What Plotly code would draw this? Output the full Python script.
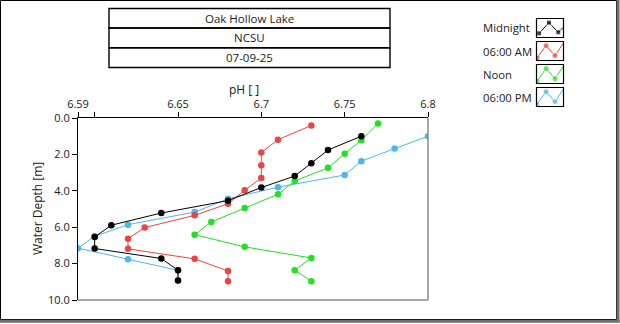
import plotly.graph_objects as go

# ---- data ----
series_names = ["Midnight", "06:00 AM", "Noon", "06:00 PM"]
series_colors = ["#000000", "#E84545", "#22E022", "#4DB6EA"]

midnight_depth = [1.0, 1.76, 2.48, 3.19, 3.82, 4.54, 5.22, 5.89, 6.54, 7.17, 7.72, 8.37, 8.93]
midnight_ph = [6.76, 6.74, 6.73, 6.72, 6.70, 6.68, 6.64, 6.61, 6.60, 6.60, 6.64, 6.65, 6.65]

am6_depth = [0.41, 1.19, 1.89, 2.6, 3.3, 3.97, 4.71, 5.35, 6.02, 6.63, 7.19, 7.74, 8.41, 8.97]
am6_ph = [6.73, 6.71, 6.70, 6.70, 6.70, 6.69, 6.68, 6.66, 6.63, 6.62, 6.62, 6.66, 6.68, 6.68]

noon_depth = [0.3, 1.22, 1.96, 2.74, 3.46, 4.19, 4.95, 5.71, 6.41, 7.08, 7.69, 8.36, 8.97]
noon_ph = [6.77, 6.76, 6.75, 6.74, 6.72, 6.71, 6.69, 6.67, 6.66, 6.69, 6.73, 6.72, 6.73]

pm6_depth = [1.0, 1.68, 2.37, 3.13, 3.8, 4.44, 5.17, 5.86, 6.5, 7.15, 7.76, 8.37, 8.93]
pm6_ph = [6.80, 6.78, 6.76, 6.75, 6.71, 6.68, 6.66, 6.62, 6.60, 6.59, 6.62, 6.65, 6.65]

x_tickvals = [6.59, 6.6, 6.65, 6.7, 6.75, 6.8]
x_ticktext = ["6.59", "", "6.65", "6.7", "6.75", "6.8"]
y_tickvals = [0, 2, 4, 6, 8, 10]
y_ticktext = ["0.0", "2.0", "4.0", "6.0", "8.0", "10.0"]

title_lines = ["Oak Hollow Lake", "NCSU", "07-09-25"]
x_title = "pH [ ]"
y_title = "Water Depth [m]"

# ---- layout helpers (pixel -> paper) ----
W, H = 620, 324
def X(px):
    return px / W
def Y(py):
    return 1 - py / H

FONT = "Open Sans, Noto Sans, sans-serif"
TXT = "#1a1a1a"

fig = go.Figure()

all_series = [(midnight_ph, midnight_depth), (am6_ph, am6_depth),
              (noon_ph, noon_depth), (pm6_ph, pm6_depth)]
# draw in reverse so Midnight sits on top
for (xs, ys), name, col in reversed(list(zip(all_series, series_names, series_colors))):
    fig.add_trace(go.Scatter(x=xs, y=ys, mode="lines+markers", name=name,
                             line=dict(color=col, width=1),
                             marker=dict(color=col, size=6.5, symbol="circle"),
                             showlegend=False, cliponaxis=True))

# plot area pixels
L, R, T, B = 78, 428, 118, 300

shapes = []
annotations = []

# legend icons on small inset axes
icon_x_black = [0.08, 0.46, 0.82, 1.02]
icon_y_black = [0.2, 0.8, 0.26, 0.55]
icon_x_col = [0.0, 0.35, 0.69, 1.0]
icon_y_col = [0.12, 0.8, 0.24, 0.9]
box_tops = [19, 42, 65, 88]
bx0, bx1 = 537, 563
for i, (name, col, bt) in enumerate(zip(series_names, series_colors, box_tops)):
    ax = i + 2
    bb = bt + 18
    fig.update_layout(**{
        f"xaxis{ax}": dict(domain=[X(bx0), X(bx1)], range=[0, 1], visible=False, fixedrange=True,
                           anchor=f"y{ax}", automargin=False),
        f"yaxis{ax}": dict(domain=[Y(bb), Y(bt)], range=[0, 1], visible=False, fixedrange=True,
                           anchor=f"x{ax}", automargin=False),
    })
    if i == 0:
        ix, iy, sym = icon_x_black, icon_y_black, "square"
        msize = [5, 5, 5, 0]
    else:
        ix, iy, sym = icon_x_col, icon_y_col, "circle"
        msize = [6, 6, 6, 0]
    fig.add_trace(go.Scatter(x=ix, y=iy, mode="lines+markers", xaxis=f"x{ax}", yaxis=f"y{ax}",
                             line=dict(color=col, width=1),
                             marker=dict(color=col, size=msize, symbol=sym),
                             showlegend=False, hoverinfo="skip", cliponaxis=True))
    shapes.append(dict(type="rect", xref="paper", yref="paper",
                       x0=X(bx0 - 0.5), x1=X(bx1 + 0.5), y0=Y(bb + 0.5), y1=Y(bt - 0.5),
                       line=dict(color="black", width=1.2)))
    annotations.append(dict(text=name, xref="paper", yref="paper", x=X(481), y=Y(bt + 9),
                            xanchor="left", yanchor="middle", showarrow=False,
                            font=dict(family=FONT, size=11.3, color=TXT)))

# title boxes
tb_edges = [8.5, 28, 47.7, 67.5]
for j, t in enumerate(title_lines):
    y0, y1 = tb_edges[j], tb_edges[j + 1]
    shapes.append(dict(type="rect", xref="paper", yref="paper",
                       x0=X(109), x1=X(390), y0=Y(y1), y1=Y(y0),
                       line=dict(color="black", width=1.4)))
    annotations.append(dict(text=t, xref="paper", yref="paper", x=X(249.5), y=Y((y0 + y1) / 2),
                            xanchor="center", yanchor="middle", showarrow=False,
                            font=dict(family=FONT, size=11.5, color=TXT)))

# axis titles
annotations.append(dict(text=x_title, xref="paper", yref="paper", x=X(244), y=Y(89),
                        xanchor="center", yanchor="middle", showarrow=False,
                        font=dict(family=FONT, size=12, color=TXT)))
annotations.append(dict(text=y_title, xref="paper", yref="paper", x=X(37), y=Y(209),
                        xanchor="center", yanchor="middle", showarrow=False, textangle=-90,
                        font=dict(family=FONT, size=12, color=TXT)))

# plot area right & bottom gray borders
shapes.append(dict(type="line", xref="paper", yref="paper", x0=X(R), x1=X(R), y0=Y(B), y1=Y(T),
                   line=dict(color="#8a8a8a", width=1.5)))
shapes.append(dict(type="line", xref="paper", yref="paper", x0=X(L), x1=X(R), y0=Y(B), y1=Y(B),
                   line=dict(color="#8a8a8a", width=1.5)))

# outer frame
shapes.append(dict(type="rect", xref="paper", yref="paper", x0=X(0.5), x1=X(616.5),
                   y0=Y(319.5), y1=Y(0.5), line=dict(color="black", width=1)))
shapes.append(dict(type="line", xref="paper", yref="paper", x0=X(618), x1=X(618), y0=Y(322.5), y1=Y(0),
                   line=dict(color="#6e6e6e", width=3)))
shapes.append(dict(type="line", xref="paper", yref="paper", x0=X(0), x1=X(619.5), y0=Y(321.3), y1=Y(321.3),
                   line=dict(color="#6e6e6e", width=3)))

fig.update_layout(
    template="none",
    width=W, height=H,
    margin=dict(l=0, r=0, t=0, b=0, pad=0, autoexpand=False),
    paper_bgcolor="white", plot_bgcolor="white",
    showlegend=False,
    xaxis=dict(domain=[X(L), X(R)], range=[6.59, 6.8], side="top",
               tickvals=x_tickvals, ticktext=x_ticktext,
               ticks="outside", ticklen=5, tickcolor="black", tickwidth=1,
               showline=True, linecolor="black", linewidth=1.2,
               showgrid=False, zeroline=False, fixedrange=True, automargin=False,
               tickfont=dict(family=FONT, size=11, color=TXT), anchor="y"),
    yaxis=dict(domain=[Y(B), Y(T)], range=[10, 0],
               tickvals=y_tickvals, ticktext=y_ticktext,
               ticks="outside", ticklen=5, tickcolor="black", tickwidth=1,
               showline=True, linecolor="black", linewidth=1.2,
               showgrid=False, zeroline=False, fixedrange=True, automargin=False,
               tickfont=dict(family=FONT, size=11, color=TXT), anchor="x"),
    shapes=shapes, annotations=annotations,
)

fig.write_html("out.html")
